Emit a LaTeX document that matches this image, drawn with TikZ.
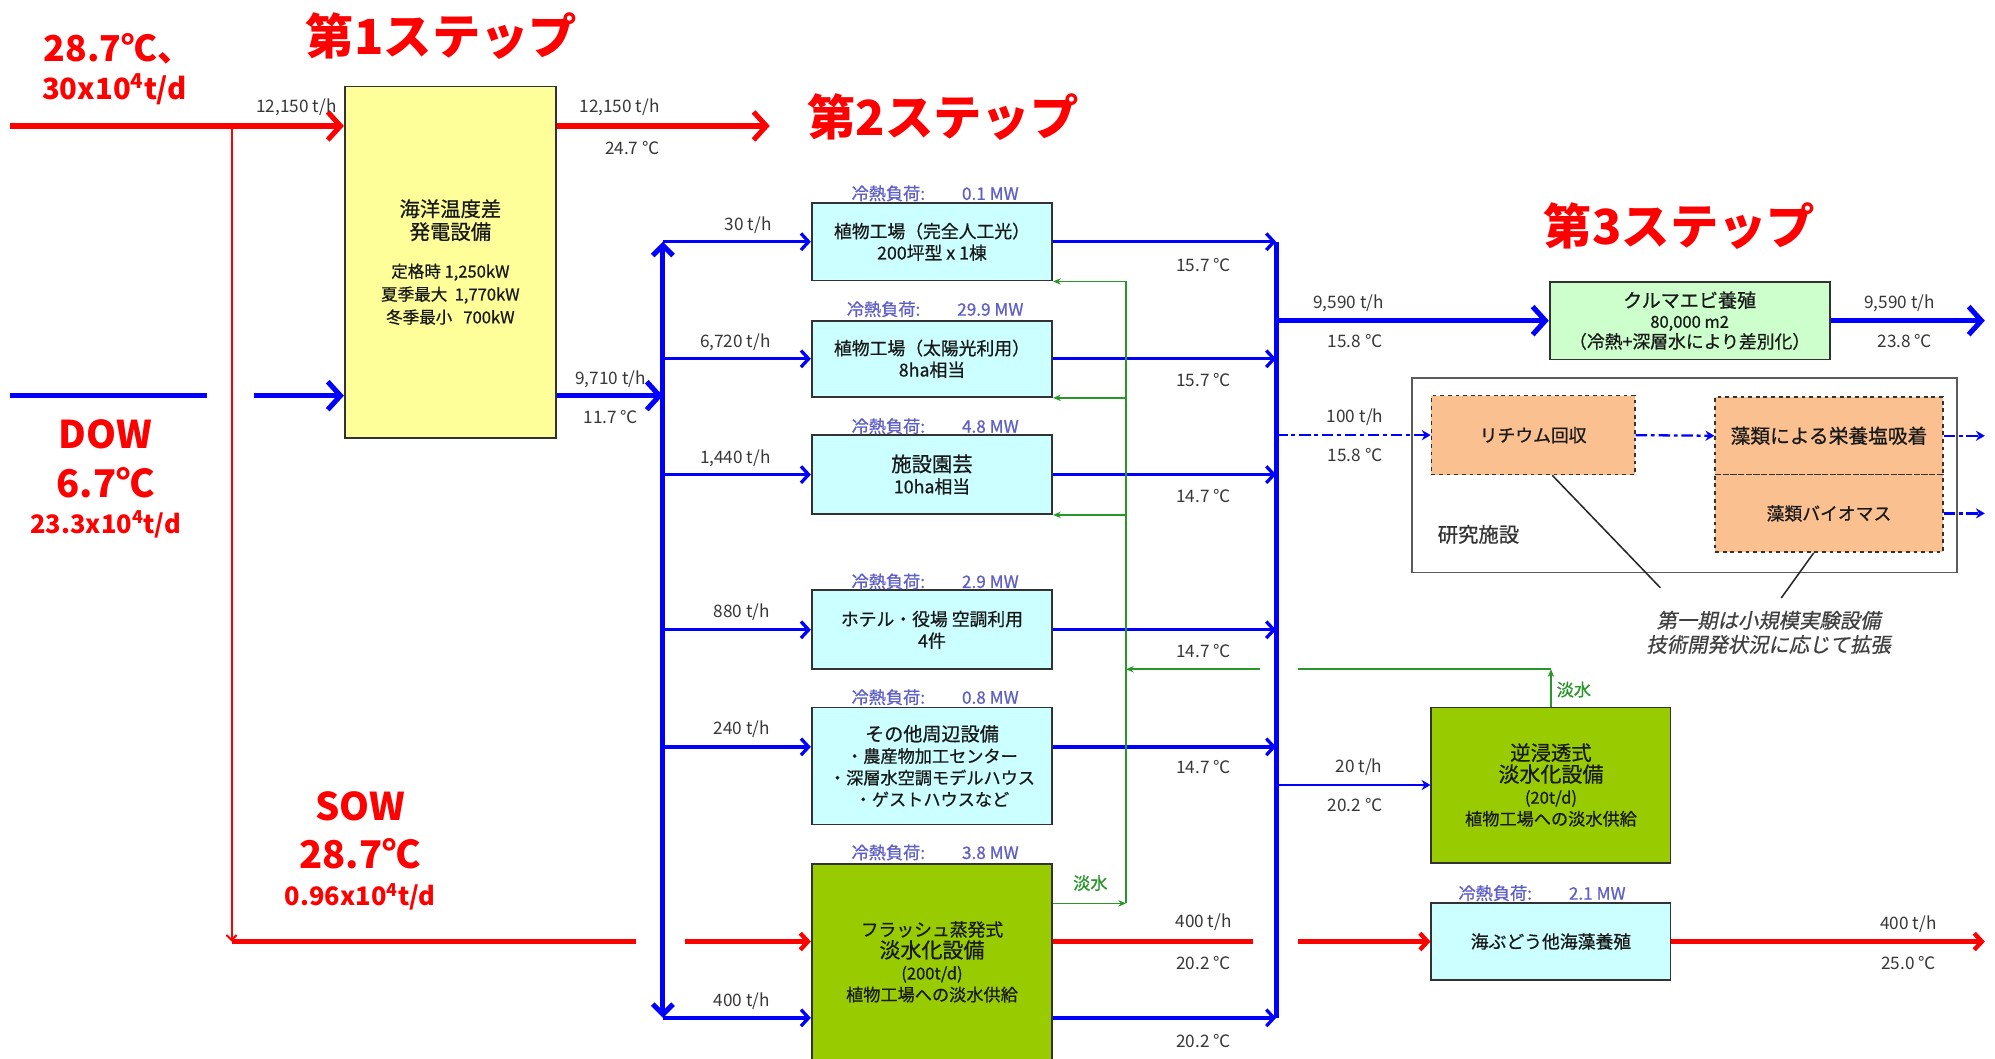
\documentclass[tikz,border=0pt]{standalone}
\usepackage{fontspec}
\setmainfont{Noto Sans CJK JP}
\newfontfamily\cjkit{Noto Sans CJK JP}[FakeSlant=0.2,FakeBold=0.6]
\newfontfamily\boxfont{Noto Sans CJK JP}[FakeBold=0.7]
\usetikzlibrary{arrows.meta}
\definecolor{ired}{RGB}{255,0,0}
\definecolor{iblue}{RGB}{0,0,255}
\definecolor{igreen}{RGB}{40,150,40}
\definecolor{yelf}{RGB}{255,255,153}
\definecolor{cyanf}{RGB}{204,255,255}
\definecolor{limef}{RGB}{153,204,0}
\definecolor{ltgreenf}{RGB}{204,255,204}
\definecolor{orangef}{RGB}{250,192,144}
\definecolor{boxline}{RGB}{50,50,50}
\definecolor{labgray}{RGB}{55,55,55}
\definecolor{loadc}{RGB}{95,95,200}
\begin{document}
\begin{tikzpicture}[x=1pt,y=-1pt,
  box/.style={draw=boxline, line width=1.4pt, inner sep=0pt, align=center, text=black!90, font=\fontsize{14}{17}\selectfont\boxfont},
  cybox/.style={box, fill=cyanf},
  limebox/.style={box, fill=limef},
  orbox/.style={box, fill=orangef, dashed, line width=1.1pt},
  lab/.style={inner sep=0pt, text=labgray, font=\fontsize{13.5}{15}\selectfont},
  load/.style={inner sep=0pt, text=loadc, font=\fontsize{13.5}{15}\selectfont\boxfont},
  bigred/.style={inner sep=0pt, text=ired, font=\fontsize{30}{32}\selectfont\bfseries},
  midred/.style={inner sep=0pt, text=ired, font=\fontsize{22}{24}\selectfont\bfseries},
  steptitle/.style={inner sep=0pt, text=ired, font=\fontsize{38}{40}\selectfont\bfseries},
  redthick/.style={draw=ired, line width=4pt},
  redmid/.style={draw=ired, line width=3.4pt},
  redthin/.style={draw=ired, line width=1.6pt},
  bluethick/.style={draw=iblue, line width=4pt},
  bluemid/.style={draw=iblue, line width=2.6pt},
  bluethin/.style={draw=iblue, line width=1.6pt},
  dashdotline/.style={draw=iblue, line width=1.8pt, dash pattern=on 9pt off 3pt on 3pt off 3pt},
  grn/.style={draw=igreen, line width=1.2pt},
  bigtip/.style={-{Straight Barb[length=10pt,width=22pt]}},
  midtip/.style={-{Straight Barb[length=6pt,width=13pt]}},
  smalltip/.style={-{Stealth[length=7pt,width=8pt]}},
  gtip/.style={-{Stealth[length=6pt,width=5pt]}},
]
\useasboundingbox (0,0) rectangle (1568,832);
\fill[white] (0,0) rectangle (1568,832);

% ---------- titles and big labels
\node[steptitle] (s1) at (347,28) {第1ステップ};
\node[steptitle] (s2) at (741,92) {第2ステップ};
\node[steptitle] (s3) at (1320,178) {第3ステップ};
\node[bigred, font=\fontsize{28}{30}\selectfont\bfseries] (t287) at (93,38) {28.7℃、};
\node[midred, font=\fontsize{23}{25}\selectfont\bfseries] (t30) at (90,70) {30x10\textsuperscript{4}t/d};
\node[bigred] (dow) at (83,341) {DOW};
\node[bigred] (dowt) at (83,379) {6.7℃};
\node[midred, font=\fontsize{20}{22}\selectfont\bfseries] (dowq) at (83,412) {23.3x10\textsuperscript{4}t/d};
\node[bigred] (sow) at (283,634) {SOW};
\node[bigred] (sowt) at (283,671) {28.7℃};
\node[midred, font=\fontsize{20}{22}\selectfont\bfseries] (sowq) at (283,705) {0.96x10\textsuperscript{4}t/d};

% ---------- boxes
\node[box, fill=yelf, minimum width=166pt, minimum height=276pt, font=\fontsize{16}{18}\selectfont\boxfont] (yel) at (354,206)
 {海洋温度差\\発電設備\\[12pt]{\fontsize{13}{16}\selectfont 定格時 1,250kW}\\{\fontsize{13}{16}\selectfont 夏季最大\ \ 1,770kW}\\{\fontsize{13}{16}\selectfont 冬季最小\ \ \ 700kW}};
\node[cybox, minimum width=189pt, minimum height=61pt] (b1) at (732.5,190) {植物工場（完全人工光）\\{\fontsize{14}{17}\selectfont 200坪型 x 1棟}};
\node[cybox, minimum width=189pt, minimum height=60pt] (b2) at (732.5,282) {植物工場（太陽光利用）\\{\fontsize{14}{17}\selectfont 8ha相当}};
\node[cybox, minimum width=189pt, minimum height=62pt] (b3) at (732.5,373) {{\fontsize{16}{18}\selectfont 施設園芸}\\{\fontsize{14}{17}\selectfont 10ha相当}};
\node[cybox, minimum width=189pt, minimum height=62pt] (b4) at (732.5,495) {ホテル・役場 空調利用\\{\fontsize{14}{17}\selectfont 4件}};
\node[cybox, minimum width=189pt, minimum height=92pt] (b5) at (732.5,602) {{\fontsize{15}{17}\selectfont その他周辺設備}\\{\fontsize{13.5}{17}\selectfont ・農産物加工センター}\\{\fontsize{13.5}{17}\selectfont ・深層水空調モデルハウス}\\{\fontsize{13.5}{17}\selectfont ・ゲストハウスなど}};
\node[limebox, minimum width=189pt, minimum height=154pt] (b6) at (732.5,756) {フラッシュ蒸発式\\{\fontsize{16.5}{17}\selectfont 淡水化設備}\\{\fontsize{13}{17}\selectfont (200t/d)}\\{\fontsize{13.5}{17}\selectfont 植物工場への淡水供給}};
\node[box, fill=ltgreenf, minimum width=220pt, minimum height=61pt, font=\fontsize{15}{16}\selectfont\boxfont] (kur) at (1328,252) {クルマエビ養殖\\{\fontsize{13}{16}\selectfont 80,000 m2}\\{\fontsize{14}{16}\selectfont（冷熱+深層水により差別化）}};
\node[draw=boxline!80, line width=1.3pt, minimum width=428pt, minimum height=153pt, inner sep=0pt] (res) at (1324,373.5) {};
\node[inner sep=0pt, text=black!80, font=\fontsize{16}{18}\selectfont\boxfont] (resl) at (1162,420) {研究施設};
\node[orbox, minimum width=160pt, minimum height=62pt] (li) at (1205,342) {リチウム回収};
\node[orbox, minimum width=179pt, minimum height=61pt, font=\fontsize{15.5}{17}\selectfont\boxfont] (al1) at (1437.5,342.5) {藻類による栄養塩吸着};
\node[orbox, minimum width=179pt, minimum height=61pt] (al2) at (1437.5,403.5) {藻類バイオマス};
\node[limebox, minimum width=188pt, minimum height=122pt] (ro) at (1219,617) {{\fontsize{16}{17}\selectfont 逆浸透式}\\{\fontsize{16.5}{17}\selectfont 淡水化設備}\\{\fontsize{13}{17}\selectfont (20t/d)}\\{\fontsize{13.5}{17}\selectfont 植物工場への淡水供給}};
\node[cybox, minimum width=188pt, minimum height=61pt] (umi) at (1219,740) {海ぶどう他海藻養殖};
\node[inner sep=0pt, align=center, text=black!75, font=\fontsize{16}{19}\selectfont\cjkit] (note) at (1390,497) {第一期は小規模実験設備\\技術開発状況に応じて拡張};

% ---------- cooling-load labels
\node[load] (ld1) at (735,152) {冷熱負荷:\hspace{29pt}0.1 MW};
\node[load] (ld2) at (735,243) {冷熱負荷:\hspace{29pt}29.9 MW};
\node[load] (ld3) at (735,335) {冷熱負荷:\hspace{29pt}4.8 MW};
\node[load] (ld4) at (735,457) {冷熱負荷:\hspace{29pt}2.9 MW};
\node[load] (ld5) at (735,548) {冷熱負荷:\hspace{29pt}0.8 MW};
\node[load] (ld6) at (735,670) {冷熱負荷:\hspace{29pt}3.8 MW};
\node[load] (ld7) at (1212,702) {冷熱負荷:\hspace{29pt}2.1 MW};

% ---------- coordinates
\coordinate (rin) at (8,99);
\coordinate (rjt) at (182,99);
\coordinate (rout) at (605,99);
\coordinate (rcor) at (182,740);
\coordinate (rg1) at (500,740);
\coordinate (rg2) at (538,740);
\coordinate (rg3) at (985,740);
\coordinate (rg4) at (1020,740);
\coordinate (rend) at (1560,740);
\coordinate (bin) at (8,311);
\coordinate (bg1) at (163,311);
\coordinate (bg2) at (200,311);
\coordinate (jl) at (521,311);
\coordinate (tlt) at (521,190);
\coordinate (tlb) at (521,800);
\coordinate (y5) at (521,587);
\coordinate (rt1) at (1003,190);
\coordinate (rt6) at (1003,800);
\coordinate (kout) at (1560,252);
\coordinate (a1out) at (1560,342.5);
\coordinate (a2out) at (1560,403.5);
\coordinate (gx) at (885,710);
\coordinate (gy) at (1219,526);
\coordinate (gg1) at (1020,526);
\coordinate (gg2) at (990,526);
\coordinate (c1) at (1305,462);
\coordinate (c2) at (1400,470);

% ---------- red lines
\draw[redthick, bigtip] (rin) -- (yel.west |- rin);
\draw[redthick, bigtip] (yel.east |- rin) -- (rout);
\draw[redthin, -{Straight Barb[length=4pt,width=8pt]}] (rjt) -- (rcor);
\draw[redmid] (rcor) -- (rg1);
\draw[redmid, midtip] (rg2) -- (b6.west |- rcor);
\draw[redmid] (b6.east |- rcor) -- (rg3);
\draw[redmid, midtip] (rg4) -- (umi.west);
\draw[redmid, midtip] (umi.east) -- (rend);

% ---------- blue lines
\draw[bluethick] (bin) -- (bg1);
\draw[bluethick, bigtip] (bg2) -- (yel.west |- bg2);
\draw[bluethick, bigtip] (yel.east |- jl) -- (jl);
\draw[bluethick, -{Straight Barb[length=8pt,width=16pt]}] (jl) -- (tlt);
\draw[bluethick, -{Straight Barb[length=8pt,width=16pt]}] (jl) -- (tlb);
\draw[bluemid, midtip] (tlt) -- (b1.west);
\draw[bluemid, midtip] (tlt |- b2.west) -- (b2.west);
\draw[bluemid, midtip] (tlt |- b3.west) -- (b3.west);
\draw[bluemid, midtip] (tlt |- b4.west) -- (b4.west);
\draw[bluemid, midtip] (y5) -- (b5.west |- y5);
\draw[bluemid, midtip] (tlb) -- (b6.west |- tlb);
\draw[bluemid, midtip] (b1.east) -- (rt1 |- b1.east);
\draw[bluemid, midtip] (b2.east) -- (rt1 |- b2.east);
\draw[bluemid, midtip] (b3.east) -- (rt1 |- b3.east);
\draw[bluemid, midtip] (b4.east) -- (rt1 |- b4.east);
\draw[bluemid, midtip] (b5.east |- y5) -- (rt1 |- y5);
\draw[bluemid, midtip] (b6.east |- tlb) -- (rt6);
\draw[bluethick] (rt1) -- (rt6);
\draw[bluethick, bigtip] (rt1 |- kur.west) -- (kur.west);
\draw[bluethick, bigtip] (kur.east) -- (kout);
\draw[dashdotline, smalltip] (rt1 |- li.west) -- (li.west);
\draw[dashdotline, smalltip] (li.east) -- (al1.west);
\draw[dashdotline, smalltip] (al1.east) -- (a1out);
\draw[dashdotline, smalltip] (al2.east) -- (a2out);
\draw[bluethin, smalltip] (rt1 |- ro.west) -- (ro.west);

% ---------- green fresh-water lines
\draw[grn] (gx) -- (gx |- b1.south east);
\draw[grn, gtip] (gx |- b1.south east) -- (b1.south east);
\draw[grn, gtip] (gx |- b2.south east) -- (b2.south east);
\draw[grn, gtip] (gx |- b3.south east) -- (b3.south east);
\draw[grn, gtip] (b6.east |- gx) -- (gx);
\draw[grn, gtip] (ro.north) -- (gy);
\draw[grn] (gy) -- (gg1);
\draw[grn, gtip] (gg2) -- (gx |- gg2);
\node[inner sep=0pt, text=igreen, font=\fontsize{13.5}{15}\selectfont\boxfont] (fw1) at (857,694) {淡水};
\node[inner sep=0pt, text=igreen, font=\fontsize{13.5}{15}\selectfont\boxfont] (fw2) at (1237,542) {淡水};

% ---------- callouts
\draw[line width=1.2pt, black!85] ([xshift=15pt]li.south) -- (c1);
\draw[line width=1.2pt, black!85] ([xshift=-12pt]al2.south) -- (c2);

% ---------- flow labels
\node[lab] (f1) at (233,84) {12,150 t/h};
\node[lab] (f2) at (487,84) {12,150 t/h};
\node[lab] (f3) at (497,116) {24.7 ℃};
\node[lab] (f4) at (480,298) {9,710 t/h};
\node[lab] (f5) at (480,328) {11.7 ℃};
\node[lab] (f6) at (588,177) {30 t/h};
\node[lab] (f7) at (578,269) {6,720 t/h};
\node[lab] (f8) at (578,360) {1,440 t/h};
\node[lab] (f9) at (583,481) {880 t/h};
\node[lab] (f10) at (583,573) {240 t/h};
\node[lab] (f11) at (583,787) {400 t/h};
\node[lab] (o1) at (946,208) {15.7 ℃};
\node[lab] (o2) at (946,299) {15.7 ℃};
\node[lab] (o3) at (946,390) {14.7 ℃};
\node[lab] (o4) at (946,512) {14.7 ℃};
\node[lab] (o5) at (946,603) {14.7 ℃};
\node[lab] (o6) at (946,725) {400 t/h};
\node[lab] (o7) at (946,757) {20.2 ℃};
\node[lab] (o8) at (946,818) {20.2 ℃};
\node[lab] (k1) at (1060,238) {9,590 t/h};
\node[lab] (k2) at (1065,268) {15.8 ℃};
\node[lab] (k3) at (1065,328) {100 t/h};
\node[lab] (k4) at (1065,358) {15.8 ℃};
\node[lab] (k5) at (1068,603) {20 t/h};
\node[lab] (k6) at (1065,633) {20.2 ℃};
\node[lab] (k7) at (1493,238) {9,590 t/h};
\node[lab] (k8) at (1497,268) {23.8 ℃};
\node[lab] (k9) at (1500,726) {400 t/h};
\node[lab] (k10) at (1500,757) {25.0 ℃};
\end{tikzpicture}
\end{document}
